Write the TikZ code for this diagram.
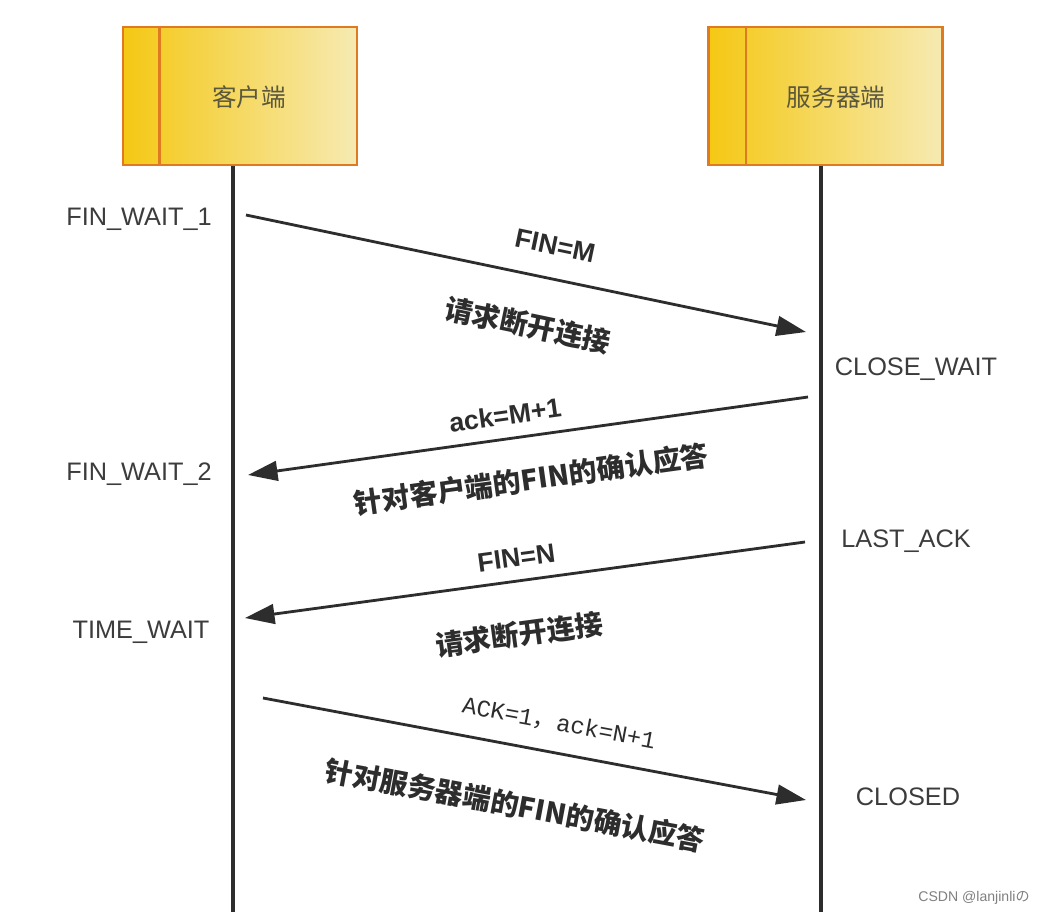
\documentclass[tikz,border=0pt]{standalone}
\usepackage{fontspec}
\setmainfont{Liberation Sans}
\newfontfamily\cjk{Noto Sans CJK SC}
\newfontfamily\monoface{Liberation Mono}
\usepackage{xcolor}
\usepackage{tikz}
\usetikzlibrary{arrows.meta}

\definecolor{hostorange}{RGB}{224,122,32}
\definecolor{hostyellow}{RGB}{245,200,20}
\definecolor{hostpale}{RGB}{246,234,178}
\definecolor{hosttext}{RGB}{92,88,60}
\definecolor{linegray}{RGB}{45,45,45}
\definecolor{stategray}{RGB}{60,60,60}

\begin{document}
\begin{tikzpicture}[x=0.025cm,y=-0.025cm,
  hostbox/.style={draw=hostorange,line width=2pt,left color=hostyellow,right color=hostpale,
    minimum width=5.85cm,minimum height=3.45cm,inner sep=0pt},
  hostname/.style={text=hosttext,font=\cjk\fontsize{17.5}{19}\selectfont},
  life/.style={linegray,line width=2.2pt},
  msg/.style={linegray,line width=2pt,-{Triangle[length=21pt,width=14pt]}},
  state/.style={text=stategray,font=\fontsize{18}{20}\selectfont},
  tag/.style={text=linegray,inner sep=0pt,font=\bfseries\fontsize{19}{21}\selectfont},
  note/.style={text=linegray,inner sep=0pt,font=\cjk\bfseries\fontsize{20}{22}\selectfont}]
\useasboundingbox[fill=white] (0,0) rectangle (1045,921);

% the two hosts
\node[hostbox] (cli) at (240,96) {};
\node[hostbox] (srv) at (825.5,96) {};
\draw[hostorange,line width=2pt] ([xshift=0.95cm]cli.north west) -- ([xshift=0.95cm]cli.south west);
\draw[hostorange,line width=2pt] ([xshift=0.975cm]srv.north west) -- ([xshift=0.975cm]srv.south west);
\node[hostname] (cliname) at (249,97) {客户端};
\node[hostname] (srvname) at (836,97) {服务器端};

% lifelines
\coordinate (cliend) at (233,912);
\coordinate (srvend) at (821,912);
\draw[life] (cliend |- cli.south) -- (cliend);
\draw[life] (srvend |- srv.south) -- (srvend);

% states
\node[state] (fw1) at (139,219) {FIN\_WAIT\_1};
\node[state] (fw2) at (139,474) {FIN\_WAIT\_2};
\node[state] (tw) at (141,632) {TIME\_WAIT};
\node[state] (cw) at (916,369) {CLOSE\_WAIT};
\node[state] (la) at (906,541) {LAST\_ACK};
\node[state] (cl) at (908,797) {CLOSED};

% messages
\coordinate (m1s) at (246,215);
\coordinate (m1e) at (806,332);
\coordinate (m2s) at (808,397);
\coordinate (m2e) at (248,475);
\coordinate (m3s) at (805,542);
\coordinate (m3e) at (245,618);
\coordinate (m4s) at (263,698);
\coordinate (m4e) at (806,800);

\draw[msg] (m1s) -- (m1e)
  node[pos=.54,sloped,above=16pt,tag] {FIN=M}
  node[pos=.522,sloped,below=25pt,note] {请求断开连接};
\draw[msg] (m2s) -- (m2e)
  node[pos=.535,sloped,above=9pt,tag] {ack=M+1}
  node[pos=.505,sloped,below=20pt,note] {针对客户端的FIN的确认应答};
\draw[msg] (m3s) -- (m3e)
  node[pos=.51,sloped,above=9pt,tag] {FIN=N}
  node[pos=.523,sloped,below=27pt,note] {请求断开连接};
\draw[msg] (m4s) -- (m4e)
  node[pos=.535,sloped,above=13pt,tag,font=\monoface\fontsize{17}{19}\selectfont] {ACK=1{\cjk ，}ack=N+1}
  node[pos=.484,sloped,below=31pt,note] {针对服务器端的FIN的确认应答};

\node[text=gray,font=\fontsize{10}{12}\selectfont] (mark) at (974,898) {CSDN @lanjinli{\cjk の}};
\end{tikzpicture}
\end{document}
